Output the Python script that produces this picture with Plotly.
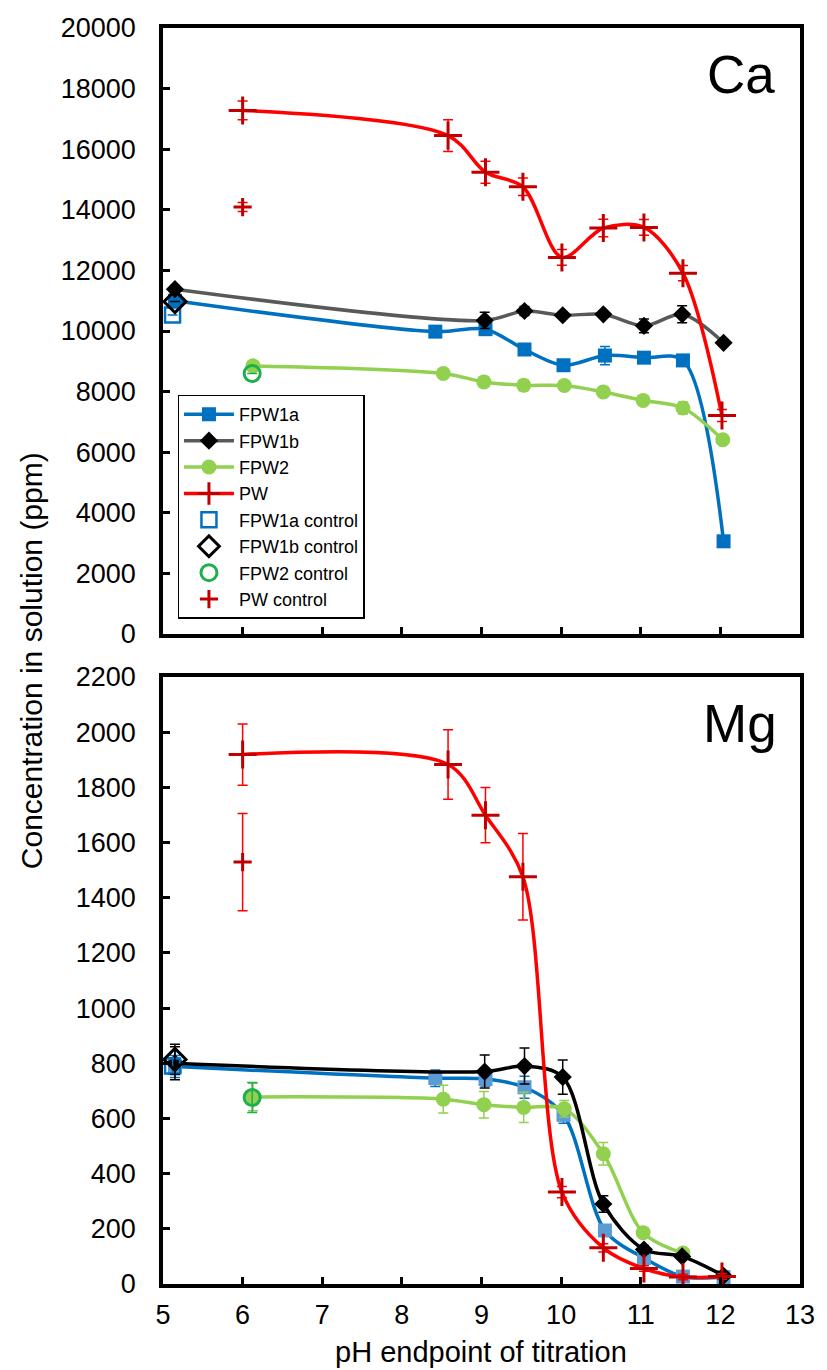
import plotly.graph_objects as go

# ---------------- data ----------------
ph_fpw1a = [5.15, 8.42, 9.05, 9.54, 10.03, 10.55, 11.04, 11.53, 12.04]
ph_fpw1b = [5.15, 9.04, 9.54, 10.02, 10.53, 11.04, 11.52, 12.04]
ph_fpw2 = [6.13, 8.52, 9.03, 9.53, 10.04, 10.53, 11.03, 11.53, 12.03]
ph_pw = [6.0, 8.58, 9.05, 9.52, 10.01, 10.53, 11.04, 11.53, 12.02]

# Ca (ppm)
ca_fpw1a = [11000, 9980, 10060, 9390, 8870, 9190, 9120, 9030, 3060]
ca_fpw1a_err = [150, 100, 120, 120, 150, 300, 150, 120, 80]
ca_fpw1b = [11380, 10350, 10660, 10520, 10550, 10170, 10550, 9610]
ca_fpw1b_err = [120, 270, 150, 100, 100, 230, 280, 100]
ca_fpw2 = [8850, 8600, 8320, 8210, 8200, 7990, 7710, 7460, 6410]
ca_fpw2_err = [120, 100, 130, 180, 100, 100, 150, 200, 100]
ca_pw = [17280, 16450, 15240, 14760, 12430, 13400, 13420, 11910, 7210]
ca_pw_err = [310, 525, 360, 290, 260, 290, 260, 250, 200]

ca_ctrl_ph = {"FPW1a": 5.12, "FPW1b": 5.15, "FPW2": 6.12, "PW": 6.0}
ca_ctrl = {"FPW1a": 10530, "FPW1b": 10970, "FPW2": 8600, "PW": 14090}
ca_ctrl_err = {"FPW1a": 0, "FPW1b": 0, "FPW2": 0, "PW": 150}

# Mg (ppm)
mg_fpw1a = [788, 746, 743, 713, 613, 194, 94, 27, 25]
mg_fpw1a_err = [40, 30, 25, 40, 30, 20, 15, 10, 10]
mg_fpw1b = [800, 770, 790, 750, 290, 125, 100, 30]
mg_fpw1b_err = [60, 60, 65, 62, 30, 15, 10, 10]
mg_fpw2 = [678, 670, 650, 640, 635, 472, 186, 112]
mg_fpw2_err = [50, 50, 48, 55, 30, 41, 15, 10]
mg_pw = [1919, 1883, 1699, 1476, 333, 131, 56, 25, 27]
mg_pw_err = [111, 126, 100, 157, 20, 15, 10, 10, 10]

mg_ctrl_ph = {"FPW1a": 5.12, "FPW1b": 5.15, "FPW2": 6.12, "PW": 6.0}
mg_ctrl = {"FPW1a": 790, "FPW1b": 814, "FPW2": 676, "PW": 1529}
mg_ctrl_err = {"FPW1a": 30, "FPW1b": 55, "FPW2": 54, "PW": 176}

ca_yticks = list(range(0, 20001, 2000))
mg_yticks = list(range(0, 2201, 200))
x_ticks = list(range(5, 14))

# ---------------- style ----------------
BLUE = "#0070C0"
LBLUE = "#5B9BD5"
GRAY = "#595959"
GREEN = "#92D050"
DGREEN = "#1DAF4B"
RED = "#FF0000"
DRED = "#C00000"
FONT = "Arial, Liberation Sans, sans-serif"

fig = go.Figure()


def err(arr, color, width=1.5, cap=5):
    return dict(type="data", array=arr, visible=True, color=color,
                thickness=width, width=cap)


def add_main(x, y, e, name, line_color, mk_color, symbol, size, xa, ya,
             show, err_color, mk_line=None):
    marker = dict(color=mk_color, symbol=symbol, size=size)
    if mk_line is not None:
        marker["line"] = mk_line
    fig.add_trace(go.Scatter(
        x=x, y=y, mode="lines+markers", name=name,
        line=dict(color=line_color, width=3.5, shape="spline", smoothing=0.9),
        marker=marker, error_y=err(e, err_color),
        xaxis=xa, yaxis=ya, showlegend=show))


# ---- Ca panel ----
add_main(ph_fpw1a, ca_fpw1a, ca_fpw1a_err, "FPW1a", BLUE, BLUE, "square", 14,
         "x", "y", True, BLUE)
add_main(ph_fpw1b, ca_fpw1b, ca_fpw1b_err, "FPW1b", GRAY, "black", "diamond", 14,
         "x", "y", True, "black")
add_main(ph_fpw2, ca_fpw2, ca_fpw2_err, "FPW2", GREEN, GREEN, "circle", 15,
         "x", "y", True, GREEN)
add_main(ph_pw, ca_pw, ca_pw_err, "PW", RED, DRED, "cross-thin", 20,
         "x", "y", True, RED, mk_line=dict(color=DRED, width=3))

ctrl_style = {
    "FPW1a": dict(symbol="square-open", color=BLUE, size=15, lw=2.5),
    "FPW1b": dict(symbol="diamond-open", color="black", size=17, lw=3),
    "FPW2": dict(symbol="circle-open", color=DGREEN, size=16, lw=3),
    "PW": dict(symbol="cross-thin", color=DRED, size=13, lw=3),
}
for key in ["FPW1a", "FPW1b", "FPW2", "PW"]:
    st = ctrl_style[key]
    fig.add_trace(go.Scatter(
        x=[ca_ctrl_ph[key]], y=[ca_ctrl[key]], mode="markers",
        name=key + " control",
        marker=dict(symbol=st["symbol"], color=st["color"], size=st["size"],
                    line=dict(color=st["color"], width=st["lw"])),
        error_y=err([ca_ctrl_err[key]], RED if key == "PW" else st["color"]),
        xaxis="x", yaxis="y", showlegend=True))

# ---- Mg panel ----
add_main(ph_fpw1a, mg_fpw1a, mg_fpw1a_err, "FPW1a", BLUE, LBLUE, "square", 14,
         "x2", "y2", False, BLUE)
add_main(ph_fpw2[:len(mg_fpw2)], mg_fpw2, mg_fpw2_err, "FPW2", GREEN, GREEN,
         "circle", 15, "x2", "y2", False, GREEN)
add_main(ph_fpw1b, mg_fpw1b, mg_fpw1b_err, "FPW1b", "black", "black", "diamond",
         14, "x2", "y2", False, "black")
add_main(ph_pw, mg_pw, mg_pw_err, "PW", RED, DRED, "cross-thin", 20,
         "x2", "y2", False, RED, mk_line=dict(color=DRED, width=3))
for key in ["FPW1a", "FPW1b", "FPW2", "PW"]:
    st = ctrl_style[key]
    fig.add_trace(go.Scatter(
        x=[mg_ctrl_ph[key]], y=[mg_ctrl[key]], mode="markers",
        name=key + " control",
        marker=dict(symbol=st["symbol"], color=st["color"], size=st["size"],
                    line=dict(color=st["color"], width=st["lw"])),
        error_y=err([mg_ctrl_err[key]], RED if key == "PW" else st["color"]),
        xaxis="x2", yaxis="y2", showlegend=False))

# ---------------- layout ----------------
axis_common = dict(showline=True, mirror=True, linecolor="black", linewidth=3.5,
                   ticks="inside", ticklen=7, tickwidth=3, tickcolor="black",
                   showgrid=False, zeroline=False,
                   tickfont=dict(family=FONT, size=27, color="black"))

fig.update_layout(
    width=827, height=1370,
    margin=dict(l=163, r=19, t=28, b=86),
    paper_bgcolor="white", plot_bgcolor="white",
    font=dict(family=FONT, color="black"),
    xaxis=dict(**axis_common, domain=[0, 1], range=[5, 13], tickvals=x_ticks,
               showticklabels=False, anchor="y"),
    yaxis=dict(**axis_common, domain=[0.5175, 1], range=[0, 20000],
               tickvals=ca_yticks, tickformat="d", anchor="x",
               ticklabelstandoff=18),
    xaxis2=dict(**axis_common, domain=[0, 1], range=[5, 13], tickvals=x_ticks,
                anchor="y2", ticklabelstandoff=4),
    yaxis2=dict(**axis_common, domain=[0, 0.4833], range=[0, 2200],
                tickvals=mg_yticks, tickformat="d", anchor="x2",
                ticklabelstandoff=18),
    legend=dict(x=0.023, y=0.708, xanchor="left", yanchor="top",
                bgcolor="white", bordercolor="black", borderwidth=1.3,
                font=dict(family=FONT, size=18, color="black"),
                itemwidth=50, tracegroupgap=0),
    showlegend=True,
    annotations=[
        dict(text="Ca", xref="paper", yref="paper", x=0.908, y=0.9626,
             xanchor="center", yanchor="middle", showarrow=False,
             font=dict(family=FONT, size=53, color="black")),
        dict(text="Mg", xref="paper", yref="paper", x=0.906, y=0.4465,
             xanchor="center", yanchor="middle", showarrow=False,
             font=dict(family=FONT, size=53, color="black")),
        dict(text="Concentration in solution (ppm)", xref="paper", yref="paper",
             x=-0.207, y=0.496, xanchor="center", yanchor="middle",
             textangle=-90, showarrow=False,
             font=dict(family=FONT, size=30, color="black")),
        dict(text="pH endpoint of titration", xref="paper", yref="paper",
             x=0.499, y=-0.054, xanchor="center", yanchor="middle",
             showarrow=False, font=dict(family=FONT, size=29, color="black")),
    ],
)

fig.write_html("out.html")
